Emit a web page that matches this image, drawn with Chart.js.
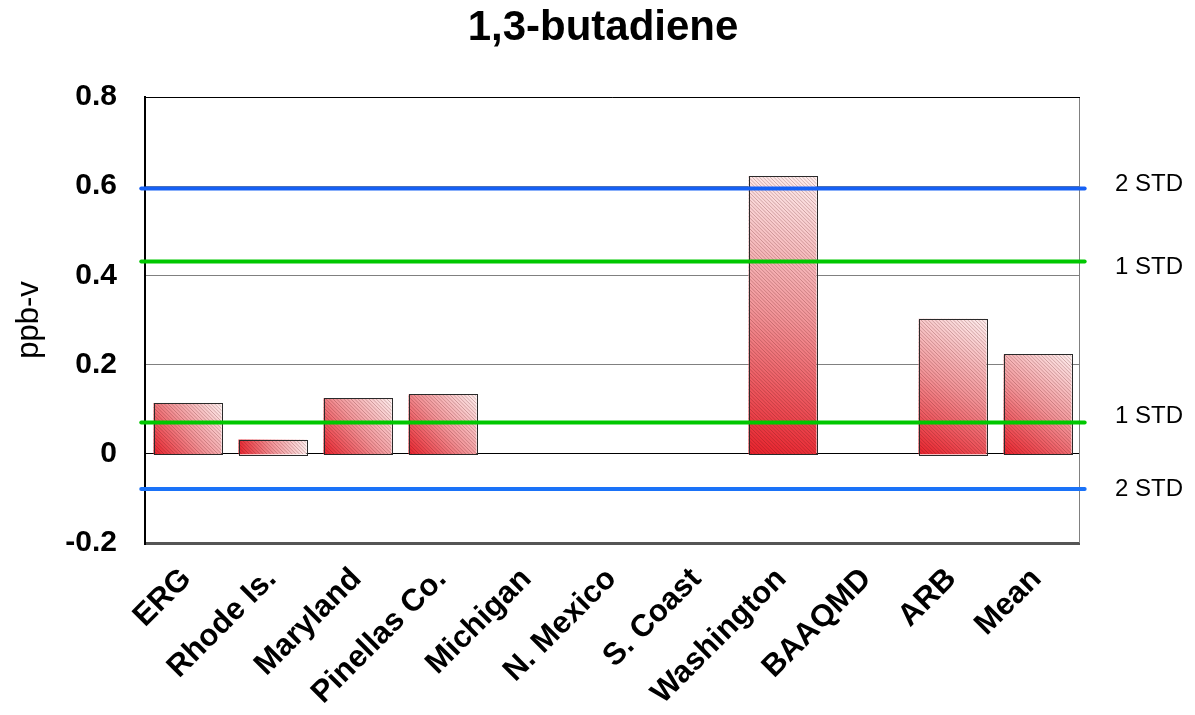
<!DOCTYPE html>
<html>
<head>
<meta charset="utf-8">
<script src="https://cdn.jsdelivr.net/npm/chart.js@4/dist/chart.umd.min.js"></script>
<style>
  body { margin: 0; background: #fff; }
  #wrap { width: 1195px; height: 715px; position: relative; }
</style>
</head>
<body>
<div id="wrap"><canvas id="chart"></canvas></div>
<script>
// Chart data
const sites = ['ERG', 'Rhode Is.', 'Maryland', 'Pinellas Co.', 'Michigan', 'N. Mexico',
               'S. Coast', 'Washington', 'BAAQMD', 'ARB', 'Mean'];
const butadiene = [0.114, 0.032, 0.125, 0.133, null, null, null, 0.623, null, 0.303, 0.223];
const stdLevels = [0.595, 0.431, 0.070, -0.079];
const stdLabels = ['2 STD', '1 STD', '1 STD', '2 STD'];
const yTicks = [-0.2, 0, 0.2, 0.4, 0.6, 0.8];

const FONT = "'Liberation Sans', Arial, sans-serif";
const stdColors = ['#1560f5', '#00c800', '#00c800', '#1a72f8'];
const labelNudge = [-4, 6, -6, 0];

// Gradient + hatched fill for the bars, drawn over each bar element
const hatchedBars = {
    id: 'hatchedBars',
    afterDatasetDraw(chart, args) {
        if (args.meta.type !== 'bar') return;
        const ctx = chart.ctx;
        args.meta.data.forEach((el, i) => {
            if (butadiene[i] === null) return;
            const { x, y, base, width } = el.getProps(['x', 'y', 'base', 'width'], true);
            const l = x - width / 2, r = x + width / 2;
            const t = Math.min(y, base), b = Math.max(y, base) + 1;
            ctx.save();
            const g = ctx.createLinearGradient(l, b, r, t);
            g.addColorStop(0, '#e8222c');
            g.addColorStop(0.5, '#f29599');
            g.addColorStop(1, '#fdeeee');
            ctx.fillStyle = g;
            ctx.fillRect(l, t, width, b - t);
            ctx.beginPath();
            ctx.rect(l, t, width, b - t);
            ctx.clip();
            ctx.strokeStyle = 'rgba(90,20,20,0.33)';
            ctx.lineWidth = 0.8;
            ctx.beginPath();
            for (let k = -(b - t); k < width + (b - t); k += 3.6) {
                ctx.moveTo(l + k, t);
                ctx.lineTo(l + k + (b - t), b);
            }
            ctx.stroke();
            ctx.restore();
            ctx.save();
            ctx.strokeStyle = '#2a2a2a';
            ctx.lineWidth = 1;
            ctx.strokeRect(Math.round(l) + 0.5, Math.round(t) + 0.5, Math.round(width), Math.round(b - t));
            ctx.restore();
        });
    }
};

// Plot frame and STD labels on the right
const frameAndLabels = {
    id: 'frameAndLabels',
    beforeDatasetsDraw(chart) {
        const { ctx, chartArea: a } = chart;
        ctx.save();
        ctx.lineWidth = 1;
        ctx.strokeStyle = '#808080';
        ctx.beginPath();
        ctx.moveTo(a.right - 0.5, a.top);
        ctx.lineTo(a.right - 0.5, a.bottom);
        ctx.stroke();
        ctx.strokeStyle = '#000';
        ctx.beginPath();
        ctx.moveTo(a.left, a.top + 0.5);
        ctx.lineTo(a.right, a.top + 0.5);
        ctx.stroke();
        ctx.restore();
    },
    afterDraw(chart) {
        const { ctx, scales: { y } } = chart;
        ctx.save();
        ctx.font = '24px ' + FONT;
        ctx.fillStyle = '#000';
        ctx.textAlign = 'center';
        ctx.textBaseline = 'middle';
        stdLevels.forEach((v, i) => {
            ctx.fillText(stdLabels[i], 1149, y.getPixelForValue(v) + labelNudge[i]);
        });
        ctx.restore();
    }
};

const lineSets = stdLevels.map((v, i) => ({
    type: 'line',
    label: stdLabels[i],
    xAxisID: 'xl',
    data: [{ x: -0.004, y: v }, { x: 1.005, y: v }],
    borderColor: stdColors[i],
    borderWidth: 4,
    borderCapStyle: 'round',
    pointRadius: 0,
    clip: 8,
    order: 0
}));

new Chart(document.getElementById('chart'), {
    type: 'bar',
    data: {
        labels: sites,
        datasets: [{
            type: 'bar',
            label: '1,3-butadiene',
            data: butadiene,
            backgroundColor: 'rgba(0,0,0,0)',
            borderWidth: 0,
            grouped: false,
            barPercentage: 0.8,
            categoryPercentage: 1.0,
            order: 1
        }, ...lineSets]
    },
    options: {
        responsive: true,
        maintainAspectRatio: false,
        animation: false,
        layout: { padding: { left: 11, right: 0, top: 0, bottom: 0 } },
        plugins: {
            legend: { display: false },
            tooltip: { enabled: false },
            title: {
                display: true,
                text: '1,3-butadiene',
                color: '#000',
                font: { family: FONT, size: 42, weight: 'bold' },
                padding: { top: 3, bottom: 43.6 }
            }
        },
        scales: {
            x: {
                type: 'category',
                grid: { display: false },
                border: { display: false },
                ticks: {
                    color: '#000',
                    font: { family: FONT, size: 31, weight: 'bold' },
                    minRotation: 45,
                    maxRotation: 45,
                    autoSkip: false,
                    padding: 10,
                    labelOffset: -1
                },
                afterFit(s) { s.height = 172; }
            },
            xl: {
                type: 'linear',
                display: false,
                offset: false,
                min: 0,
                max: 1
            },
            y: {
                min: -0.2,
                max: 0.8,
                afterBuildTicks(s) { s.ticks = yTicks.map(v => ({ value: v })); },
                grid: {
                    drawTicks: false,
                    color: c => c.tick && c.tick.value === 0 ? '#000' : (c.tick && c.tick.value === -0.2 ? '#555' : '#808080'),
                    lineWidth: c => c.tick && c.tick.value === -0.2 ? 3 : 1
                },
                border: { color: '#000', width: 2 },
                ticks: {
                    color: '#000',
                    font: { family: FONT, size: 30, weight: 'bold' },
                    padding: 28,
                    callback: v => String(+v.toFixed(1))
                },
                title: {
                    display: true,
                    text: 'ppb-v',
                    color: '#000',
                    font: { family: FONT, size: 31 },
                    padding: { top: 0, bottom: 0 }
                },
                afterFit(s) { s.width = 134; }
            },
            yr: {
                type: 'linear',
                position: 'right',
                min: 0,
                max: 1,
                grid: { display: false },
                border: { display: false },
                ticks: { display: false },
                afterFit(s) { s.width = 115; }
            }
        }
    },
    plugins: [hatchedBars, frameAndLabels]
});
</script>
</body>
</html>
